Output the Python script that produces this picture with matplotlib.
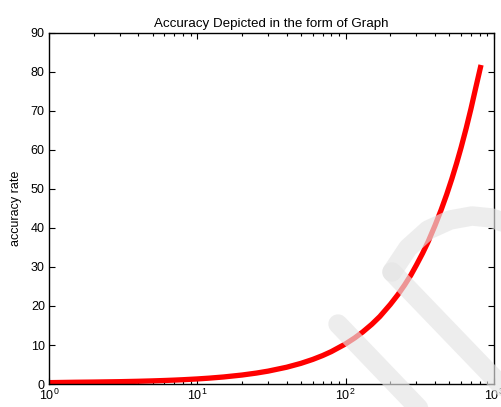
import matplotlib.pyplot as plt
from matplotlib.lines import Line2D

plt.rcParams['font.family'] = ['Liberation Sans', 'DejaVu Sans']

# values
x_vals = [1, 1.5, 2, 3, 4, 5, 6, 7, 8, 10, 12, 15, 20, 25, 30, 40, 50, 60, 70,
          80, 100, 115, 130, 150, 170, 200, 225, 250, 275, 300, 330, 360, 400,
          440, 480, 520, 560, 600, 650, 700, 750, 818]
acc = [0.35, 0.45, 0.5, 0.6, 0.7, 0.8, 0.9, 1.0, 1.1, 1.3, 1.5, 1.8, 2.3, 2.8,
       3.3, 4.3, 5.3, 6.3, 7.3, 8.3, 10.3, 11.8, 13.3, 15.3, 17.3, 20.4, 22.9,
       25.4, 27.9, 30.5, 33.5, 36.5, 40.6, 44.6, 48.6, 52.6, 56.6, 60.6, 65.6,
       70.6, 75.6, 81.8]

title = 'Accuracy Depicted in the form of Graph'
y_label = 'accuracy rate'
y_ticks = [0, 10, 20, 30, 40, 50, 60, 70, 80, 90]

fig = plt.figure(figsize=(5.02, 4.07), dpi=100)
ax = fig.add_axes([0.0976, 0.0565, 0.8864, 0.8625])

ax.semilogx(x_vals, acc, color='#ff0000', linewidth=3.8, solid_capstyle='butt')
ax.set_xlim(1, 1000)
ax.set_ylim(0, 90)
ax.set_yticks(y_ticks)
ax.set_title(title, fontsize=9.6, pad=4)
ax.set_ylabel(y_label, fontsize=9, labelpad=6)

ax.tick_params(which='both', direction='in', top=True, right=True,
               labelsize=9, width=0.8, pad=3)
ax.tick_params(which='major', length=4)
ax.tick_params(which='minor', length=2.5)
for s in ax.spines.values():
    s.set_linewidth(1.0)

# faint watermark over the bottom right
W, H = 502.0, 407.0
def fx(px): return px / W
def fy(py): return 1 - py / H
wm = dict(color='#e4e4e4', alpha=0.65, linewidth=14, solid_capstyle='round',
          solid_joinstyle='round', transform=fig.transFigure)
fig.add_artist(Line2D([fx(338), fx(430)], [fy(324), fy(420)], **wm))
arc_x = [392, 408, 428, 450, 472, 492, 512]
arc_y = [272, 248, 230, 220, 216, 218, 226]
fig.add_artist(Line2D([fx(v) for v in arc_x], [fy(v) for v in arc_y], **wm))
fig.add_artist(Line2D([fx(392), fx(520)], [fy(272), fy(405)], **wm))

fig.savefig('out.png', dpi=100)
